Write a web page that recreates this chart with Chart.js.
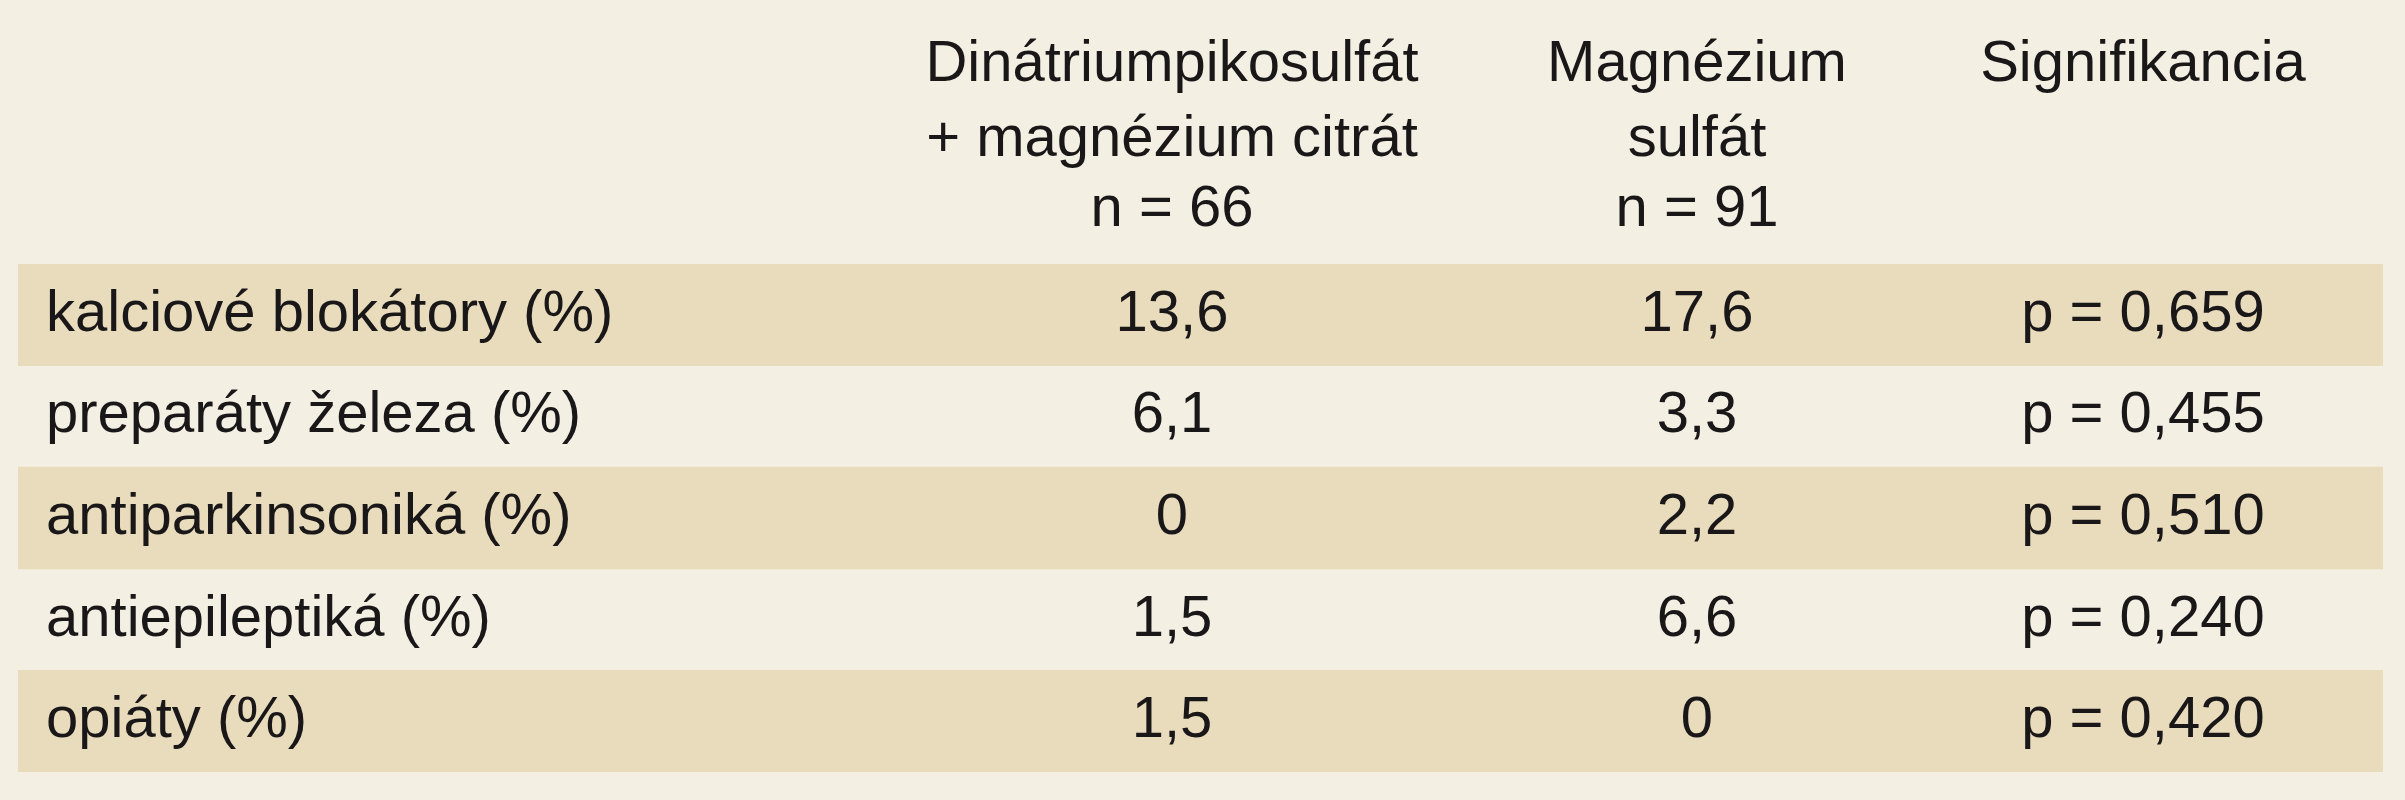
<!DOCTYPE html>
<html>
<head>
<meta charset="utf-8">
<script src="https://cdn.jsdelivr.net/npm/chart.js@4"></script>
<style>
  html, body { margin: 0; padding: 0; background: #f4efe3; }
  #wrap { width: 2405px; height: 800px; }
</style>
</head>
<body>
<div id="wrap"><canvas id="table"></canvas></div>
<script>
var rows = ['kalciové blokátory (%)', 'preparáty železa (%)', 'antiparkinsoniká (%)', 'antiepileptiká (%)', 'opiáty (%)'];
var picoValues = ['13,6', '6,1', '0', '1,5', '1,5'];
var sulfateValues = ['17,6', '3,3', '2,2', '6,6', '0'];
var pValues = ['p = 0,659', 'p = 0,455', 'p = 0,510', 'p = 0,240', 'p = 0,420'];
var headers = [
    ['Dinátriumpikosulfát', '+ magnézium citrát', 'n = 66'],
    ['Magnézium', 'sulfát', 'n = 91'],
    ['Signifikancia']
];

var FONT = '58px "Liberation Sans", "DejaVu Sans", sans-serif';
var TEXT = '#1a1718';
var colX = [1172, 1697, 2143];

// striped backgrounds on odd rows (0, 2, 4)
var stripes = rows.map(function(r, i) {
    return i % 2 === 0 ? [0, 1] : null;
});

var tableText = {
    id: 'tableText',
    afterDatasetsDraw: function(chart) {
        var ctx = chart.ctx;
        var y = chart.scales.y;
        var area = chart.chartArea;
        ctx.save();
        ctx.font = FONT;
        ctx.fillStyle = TEXT;
        ctx.textBaseline = 'middle';

        // header
        ctx.textAlign = 'center';
        var lineY = [65, 140, 210];
        headers.forEach(function(lines, c) {
            lines.forEach(function(line, l) {
                ctx.fillText(line, colX[c], lineY[l]);
            });
        });

        // body
        rows.forEach(function(label, i) {
            var cy = y.getPixelForValue(i);
            ctx.textAlign = 'left';
            ctx.fillText(label, area.left + 28, cy);
            ctx.textAlign = 'center';
            ctx.fillText(picoValues[i], colX[0], cy);
            ctx.fillText(sulfateValues[i], colX[1], cy);
            ctx.fillText(pValues[i], colX[2], cy);
        });
        ctx.restore();
    }
};

new Chart(document.getElementById('table'), {
    type: 'bar',
    data: {
        labels: rows,
        datasets: [{
            data: stripes,
            backgroundColor: '#e8dcbd',
            barPercentage: 1,
            categoryPercentage: 1
        }]
    },
    options: {
        indexAxis: 'y',
        responsive: true,
        maintainAspectRatio: false,
        animation: false,
        layout: { padding: { top: 264, left: 18, right: 22, bottom: 28 } },
        plugins: { legend: { display: false }, tooltip: { enabled: false } },
        scales: {
            x: { display: false, min: 0, max: 1 },
            y: { display: false }
        }
    },
    plugins: [tableText]
});
</script>
</body>
</html>
